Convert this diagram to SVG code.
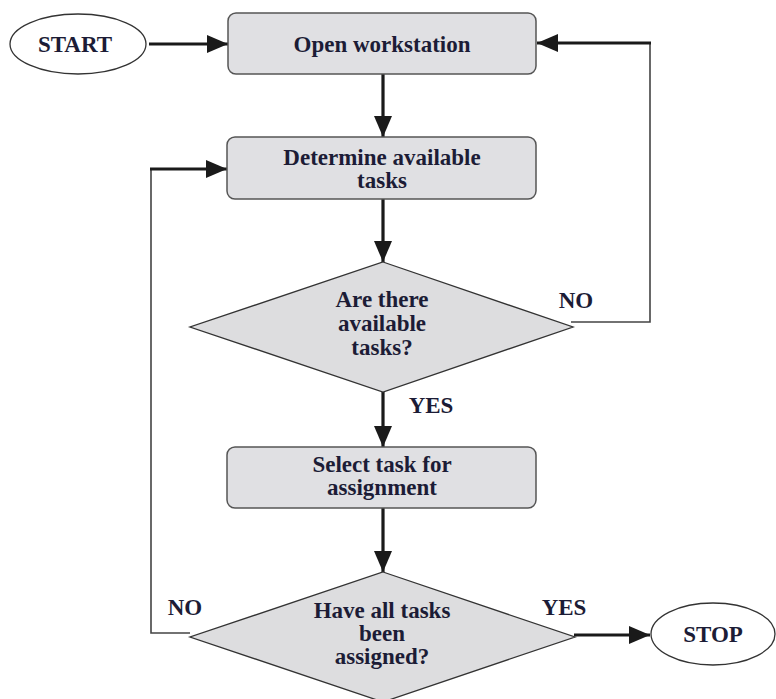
<svg xmlns="http://www.w3.org/2000/svg" width="776" height="699" viewBox="0 0 776 699">
<defs>
<marker id="ah" markerUnits="userSpaceOnUse" markerWidth="21" markerHeight="18" refX="21" refY="9" orient="auto">
<path d="M0,0 L21,9 L0,18 z" fill="#1a1a1a"/>
</marker>
<style>
text{font-family:"Liberation Serif","Times New Roman",serif;font-weight:bold;font-size:23px;fill:#1c1c36;text-anchor:middle}
.box{fill:#e0e0e3;stroke:#555;stroke-width:1.5}
.dia{fill:#dddddf;stroke:#333;stroke-width:1.3}
.ell{fill:#fff;stroke:#333;stroke-width:1.3}
.thick{fill:none;stroke:#1a1a1a;stroke-width:3.2}
.thin{fill:none;stroke:#444;stroke-width:1.6}
</style>
</defs>
<rect width="776" height="699" fill="#fff"/>
<g id="connectors">
<line class="thick" x1="149" y1="44" x2="228" y2="44" marker-end="url(#ah)"/>
<line class="thick" x1="383" y1="74" x2="383" y2="137" marker-end="url(#ah)"/>
<line class="thick" x1="383" y1="199" x2="383" y2="262" marker-end="url(#ah)"/>
<line class="thick" x1="383" y1="392" x2="383" y2="447" marker-end="url(#ah)"/>
<line class="thick" x1="383" y1="508" x2="383" y2="572" marker-end="url(#ah)"/>
<polyline class="thin" points="571,322 650,322 650,43"/>
<line class="thick" x1="651" y1="43" x2="537" y2="43" marker-end="url(#ah)"/>
<polyline class="thin" points="190,633 151,633 151,169"/>
<line class="thick" x1="150" y1="169" x2="227" y2="169" marker-end="url(#ah)"/>
<line class="thick" x1="574" y1="635" x2="650" y2="635" marker-end="url(#ah)"/>
</g>
<g id="start">
<ellipse class="ell" cx="78" cy="44" rx="68" ry="30"/>
<text x="75" y="52">START</text>
</g>
<g id="open">
<rect class="box" x="228" y="13" width="308" height="61" rx="8"/>
<text x="382" y="52">Open workstation</text>
</g>
<g id="determine">
<rect class="box" x="227" y="137" width="309" height="62" rx="8"/>
<text x="382" y="165">Determine available</text>
<text x="382" y="188">tasks</text>
</g>
<g id="decision1">
<polygon class="dia" points="383,262 573,327 383,392 190,327"/>
<text x="382" y="307">Are there</text>
<text x="382" y="331">available</text>
<text x="382" y="355">tasks?</text>
</g>
<g id="select">
<rect class="box" x="227" y="447" width="309" height="61" rx="8"/>
<text x="382" y="472">Select task for</text>
<text x="382" y="495">assignment</text>
</g>
<g id="decision2">
<polygon class="dia" points="383,572 575,637 383,702 190,637"/>
<text x="382" y="618">Have all tasks</text>
<text x="382" y="641">been</text>
<text x="382" y="664">assigned?</text>
</g>
<g id="stop">
<ellipse class="ell" cx="713" cy="634" rx="62" ry="31"/>
<text x="713" y="642">STOP</text>
</g>
<g id="labels">
<text x="576" y="308">NO</text>
<text x="431" y="413">YES</text>
<text x="185" y="615">NO</text>
<text x="564" y="615">YES</text>
</g>
</svg>
